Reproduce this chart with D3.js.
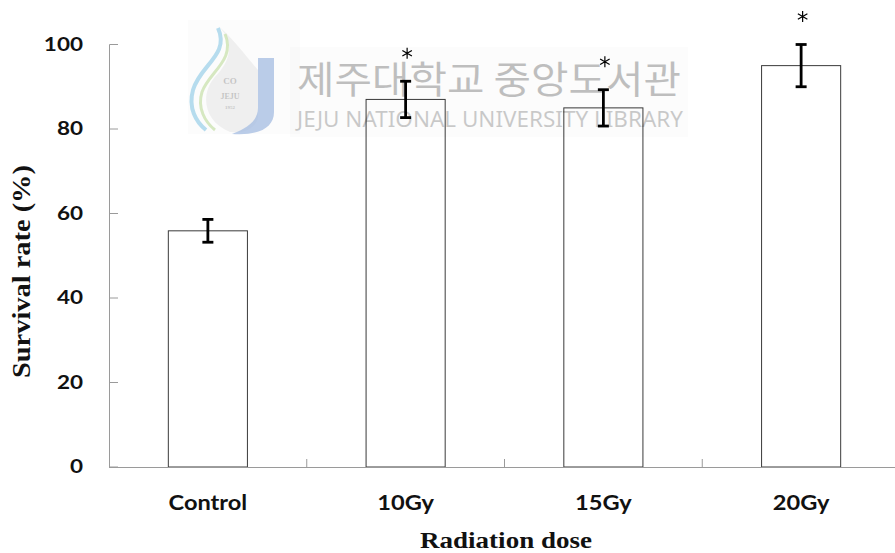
<!DOCTYPE html>
<html>
<head>
<meta charset="utf-8">
<script src="https://cdn.jsdelivr.net/npm/d3@7"></script>
<style>
  html, body { margin: 0; padding: 0; background: #fff; }
  svg { display: block; }
</style>
</head>
<body>
<script>
// Survival rate by radiation dose (mean ± error)
const categories = ["Control", "10Gy", "15Gy", "20Gy"];
const survival = [55.9, 87.0, 85.0, 95.0];
const errors = [2.7, 4.3, 4.3, 5.0];
const significant = [false, true, true, true];
const yTicks = [0, 20, 40, 60, 80, 100];

const W = 895, H = 553;
const svg = d3.select("body").append("svg")
  .attr("width", W).attr("height", H)
  .style("background", "#fff");

const x = d3.scaleBand().domain(categories).range([109, 900])
  .paddingInner(0.6).paddingOuter(0.3);
const y = d3.scaleLinear().domain([0, 100]).range([467, 44.5]);

const rows = categories.map((c, i) => ({
  cat: c, v: survival[i], e: errors[i], sig: significant[i]
}));

const axisColor = "#9a9a9a";

// Bars
svg.append("g").selectAll("rect").data(rows).join("rect")
  .attr("x", d => x(d.cat)).attr("y", d => y(d.v))
  .attr("width", x.bandwidth()).attr("height", d => y(0) - y(d.v))
  .attr("fill", "#fff").attr("stroke", "#3a3a3a").attr("stroke-width", 1);

// Library watermark
const wm = svg.append("g");
wm.append("rect").attr("x", 188).attr("y", 20).attr("width", 112).attr("height", 114)
  .attr("fill", "#000").attr("opacity", 0.012);
wm.append("rect").attr("x", 290).attr("y", 47).attr("width", 398).attr("height", 90)
  .attr("fill", "#000").attr("opacity", 0.012);
wm.append("path")
  .attr("d", "M214,22 C236,40 232,60 214,78 C200,95 204,122 230,132 C245,134 255,128 258,118 L258,70 C245,55 235,40 214,22 Z")
  .attr("fill", "#000").attr("opacity", 0.05);
wm.append("path")
  .attr("d", "M218,28 C230,55 200,65 193,90 C188,108 196,122 206,130")
  .attr("fill", "none").attr("stroke", "#9fd2ea").attr("stroke-width", 4).attr("opacity", 0.75);
wm.append("path")
  .attr("d", "M225,34 C236,60 209,72 202,92 C197,108 205,122 215,130")
  .attr("fill", "none").attr("stroke", "#c9e2ad").attr("stroke-width", 3).attr("opacity", 0.75);
wm.append("path")
  .attr("d", "M258,58 L274,58 L274,112 C274,128 258,136 232,134 C248,128 258,120 258,108 Z")
  .attr("fill", "#a9bfe2").attr("opacity", 0.8);
[["CO", 84, 9], ["JEJU", 99, 8], ["1952", 109, 5]].forEach(([t, ty, fs]) => {
  wm.append("text").attr("x", 230).attr("y", ty).attr("text-anchor", "middle")
    .attr("font-family", "Liberation Serif").attr("font-size", fs).attr("font-weight", "bold")
    .attr("fill", "#000").attr("opacity", 0.18).text(t);
});
wm.append("text").attr("x", 297).attr("y", 93)
  .attr("font-family", "Noto Sans CJK KR").attr("font-size", 38)
  .attr("textLength", 384).attr("lengthAdjust", "spacingAndGlyphs")
  .attr("fill", "#000").attr("opacity", 0.24).text("제주대학교 중앙도서관");
wm.append("text").attr("x", 297).attr("y", 127)
  .attr("font-family", "Noto Sans").attr("font-size", 21)
  .attr("textLength", 386).attr("lengthAdjust", "spacingAndGlyphs")
  .attr("fill", "#000").attr("opacity", 0.2).text("JEJU NATIONAL UNIVERSITY LIBRARY");

// Axes
const yAxis = svg.append("g");
yAxis.append("line").attr("x1", 109.5).attr("x2", 109.5).attr("y1", y(100)).attr("y2", y(0))
  .attr("stroke", axisColor);
yAxis.selectAll("line.t").data(yTicks).join("line").attr("class", "t")
  .attr("x1", 109.5).attr("x2", 118).attr("y1", d => y(d)).attr("y2", d => y(d))
  .attr("stroke", axisColor);
yAxis.selectAll("text").data(yTicks).join("text")
  .attr("transform", d => `translate(83,${y(d)}) scale(1.25,1)`)
  .attr("text-anchor", "end").attr("dy", "0.36em")
  .attr("font-family", "Lato").attr("font-weight", "bold").attr("font-size", 18)
  .attr("fill", "#111").text(d => d);

const xAxis = svg.append("g");
xAxis.append("line").attr("x1", 109).attr("x2", W).attr("y1", y(0) + 0.5).attr("y2", y(0) + 0.5)
  .attr("stroke", axisColor);
const bounds = categories.map((c, i) => x(c) - x.step() * x.paddingInner() / 2).slice(1);
xAxis.selectAll("line.t").data(bounds).join("line").attr("class", "t")
  .attr("x1", d => d).attr("x2", d => d).attr("y1", y(0)).attr("y2", y(0) - 8)
  .attr("stroke", axisColor);
xAxis.selectAll("text").data(categories).join("text")
  .attr("transform", d => `translate(${x(d) + x.bandwidth() / 2},509.5) scale(1.18,1)`)
  .attr("text-anchor", "middle")
  .attr("font-family", "Lato").attr("font-weight", "bold").attr("font-size", 20)
  .attr("fill", "#111").text(d => d);

// Error bars
const eb = svg.append("g").attr("stroke", "#000").attr("stroke-width", 2.8);
rows.forEach(d => {
  const cx = x(d.cat) + x.bandwidth() / 2;
  eb.append("line").attr("x1", cx).attr("x2", cx).attr("y1", y(d.v + d.e)).attr("y2", y(d.v - d.e));
  eb.append("line").attr("x1", cx - 5.5).attr("x2", cx + 5.5).attr("y1", y(d.v + d.e)).attr("y2", y(d.v + d.e));
  eb.append("line").attr("x1", cx - 5.5).attr("x2", cx + 5.5).attr("y1", y(d.v - d.e)).attr("y2", y(d.v - d.e));
});

// Significance marks
const star = d3.symbol().type(d3.symbolAsterisk).size(85);
svg.append("g").selectAll("path").data(rows.filter(d => d.sig)).join("path")
  .attr("transform", d => `translate(${x(d.cat) + x.bandwidth() / 2 + 1.5},${y(d.v + d.e) - 28})`)
  .attr("d", star).attr("fill", "none").attr("stroke", "#000").attr("stroke-width", 1.2);

// Axis titles
svg.append("text")
  .attr("transform", "translate(506,548) scale(1.15,1)")
  .attr("text-anchor", "middle")
  .attr("font-family", "Liberation Serif").attr("font-weight", "bold").attr("font-size", 23.5)
  .attr("fill", "#111").text("Radiation dose");
svg.append("text")
  .attr("transform", "translate(30,271.5) rotate(-90) scale(1.16,1)")
  .attr("text-anchor", "middle")
  .attr("font-family", "Liberation Serif").attr("font-weight", "bold").attr("font-size", 24.5)
  .attr("fill", "#111").text("Survival rate (%)");
</script>
</body>
</html>
